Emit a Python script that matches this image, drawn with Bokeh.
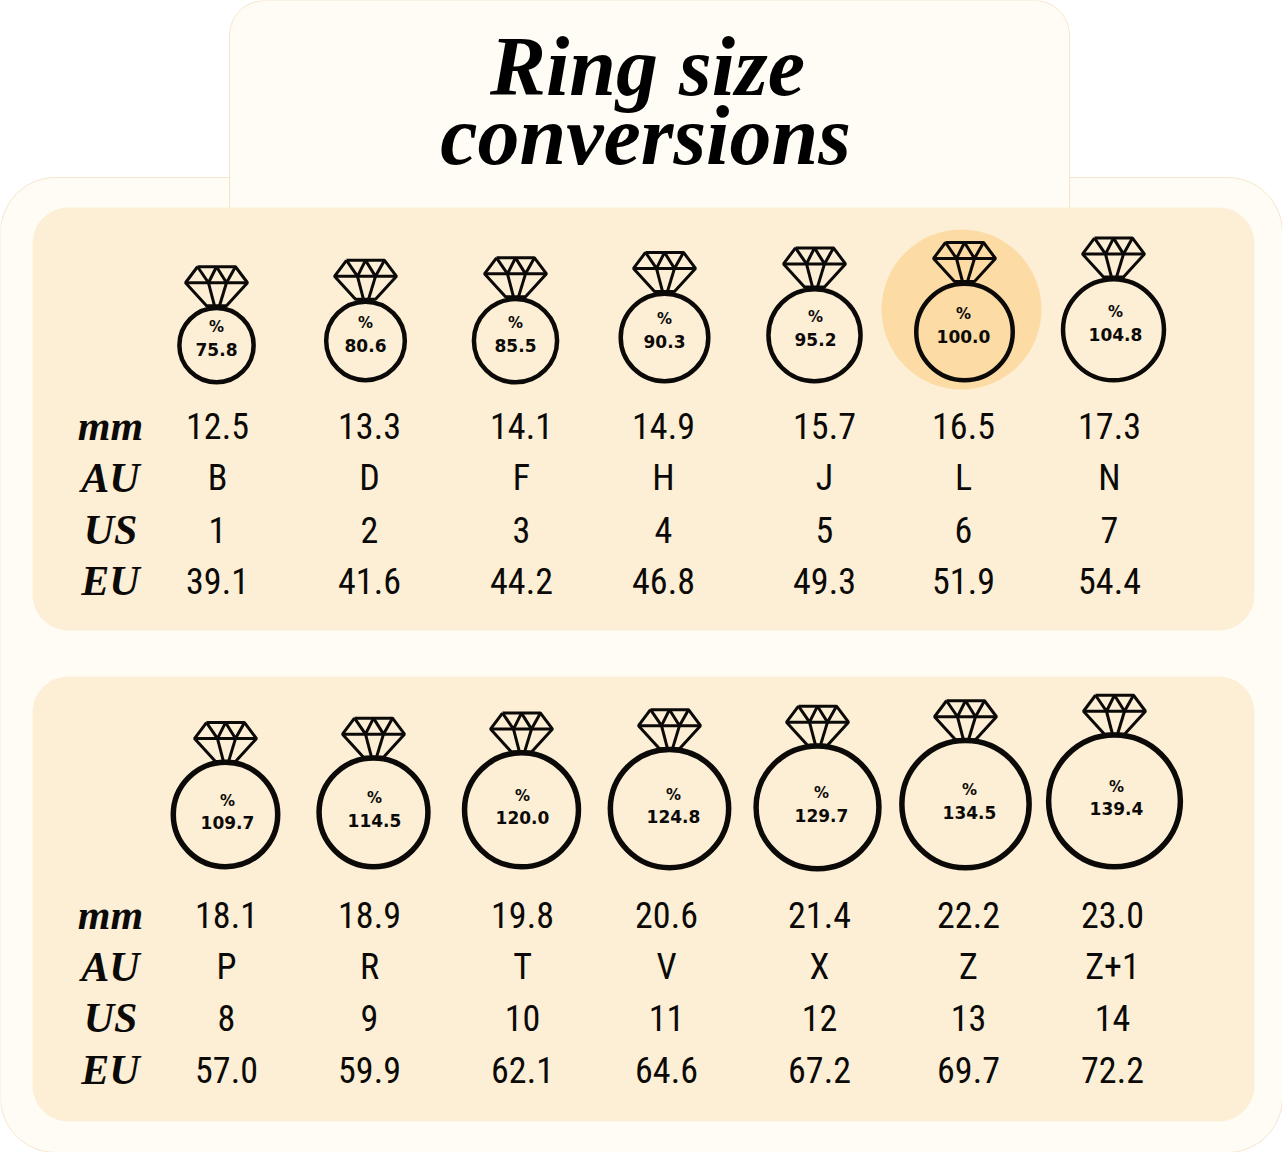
import math
from bokeh.plotting import figure
from bokeh.models import ColumnDataSource
from bokeh.core.properties import value
from bokeh.embed import file_html
from bokeh.resources import INLINE

# ---- data ----
title_lines = ["Ring size", "conversions"]
row_labels = ["mm", "AU", "US", "EU"]

pct_top = [75.8, 80.6, 85.5, 90.3, 95.2, 100.0, 104.8]
mm_top = ["12.5", "13.3", "14.1", "14.9", "15.7", "16.5", "17.3"]
au_top = ["B", "D", "F", "H", "J", "L", "N"]
us_top = ["1", "2", "3", "4", "5", "6", "7"]
eu_top = ["39.1", "41.6", "44.2", "46.8", "49.3", "51.9", "54.4"]

pct_bot = [109.7, 114.5, 120.0, 124.8, 129.7, 134.5, 139.4]
mm_bot = ["18.1", "18.9", "19.8", "20.6", "21.4", "22.2", "23.0"]
au_bot = ["P", "R", "T", "V", "X", "Z", "Z+1"]
us_bot = ["8", "9", "10", "11", "12", "13", "14"]
eu_bot = ["57.0", "59.9", "62.1", "64.6", "67.2", "69.7", "72.2"]

# ---- layout (page pixels of the reference) ----
ring_x_top = [216, 365, 515, 664, 814, 964, 1113]
ring_bottom_top = [384, 382, 384, 383, 383, 382, 382]
text_x_top = [216, 365, 515, 664, 815, 963, 1115]
col_x_top = [217, 369, 521, 663, 824, 963, 1109]
row_y_top = [425, 477, 529, 580]

ring_x_bot = [225, 373, 521, 669, 817, 965, 1114]
ring_bottom_bot = [869, 869, 869, 870, 871, 870, 869]
text_x_bot = [227, 374, 522, 673, 821, 969, 1116]
col_x_bot = [226, 369, 522, 666, 819, 968, 1112]
row_y_bot = [914, 966, 1017, 1069]

label_x = 110
TEXT_FONT = "Roboto Condensed"
SCRIPT_FONT = "Liberation Serif"
PCT_FONT = "DejaVu Sans"
INK = "#0b0a08"
CARD = "#fffcf6"

p = figure(width=1282, height=1152, x_range=(0, 1282), y_range=(1152, 0),
           output_backend="svg", toolbar_location=None, min_border=0)
p.axis.visible = False
p.grid.visible = False
p.outline_line_color = None
p.background_fill_color = "#ffffff"
p.border_fill_color = "#ffffff"


def rounded(x0, y0, x1, y1, r):
    xs, ys = [], []
    for cx, cy, a0 in [(x1 - r, y0 + r, -90), (x1 - r, y1 - r, 0),
                       (x0 + r, y1 - r, 90), (x0 + r, y0 + r, 180)]:
        for i in range(13):
            a = math.radians(a0 + i * 7.5)
            xs.append(cx + r * math.cos(a))
            ys.append(cy + r * math.sin(a))
    return xs, ys


def ring_radius(pct, lw):
    return 0.46 * pct + 4.5 - lw / 2


# backing card + tab
for box in [(0, 177, 1282, 1152, 55), (229, 0, 1069, 260, 35)]:
    xs, ys = rounded(*box)
    p.patch(xs, ys, fill_color=CARD, line_color="#f5e6cb", line_width=1)
p.patch(*rounded(230, 170, 1068, 260, 1), fill_color=CARD, line_color=None)

# inner panels
for box in [(32, 207, 1254, 630, 36), (32, 676, 1254, 1121, 36)]:
    xs, ys = rounded(*box)
    p.patch(xs, ys, fill_color="#fdefd5", line_color=None)

# highlight
p.circle(x=[961], y=[309], radius=80, fill_color="#fcdba4", line_color=None)

# title
p.text(x=[647, 645], y=[66, 135], text=title_lines,
       text_font=value(SCRIPT_FONT), text_font_style="bold italic",
       text_font_size="84px", text_color="#000000",
       text_align="center", text_baseline="middle")


def diamond(cx, top):
    segs = [
        [(-19, -40), (19, -40), (31, -24), (10, -1), (-10, -1), (-31, -24), (-19, -40)],
        [(-31, -24), (31, -24)],
        [(-19, -40), (-8, -24), (0, -40), (10, -24), (19, -40)],
        [(-8, -24), (-2, -1)],
        [(10, -24), (3, -1)],
    ]
    return [[cx + a for a, _ in s] for s in segs], [[top + b for _, b in s] for s in segs]


def draw_block(pcts, ring_x, ring_bottom, text_x, col_x, row_y, cols, lw, d_pct, d_val, d_dia):
    radii = [ring_radius(v, lw) for v in pcts]
    cy = [b - r - lw / 2 for b, r in zip(ring_bottom, radii)]
    for cx, c, r in zip(ring_x, cy, radii):
        xs, ys = diamond(cx, c - r - lw / 2 + d_dia)
        p.multi_line(xs, ys, line_color=INK, line_width=3)
    src = ColumnDataSource(dict(x=ring_x, y=cy, r=radii))
    p.circle(x="x", y="y", radius="r", source=src, fill_color=None,
             line_color=INK, line_width=lw)
    # percent labels
    p.text(x=text_x, y=[c + d_pct for c in cy], text=["%"] * len(pcts),
           text_font=value(PCT_FONT), text_font_style="bold", text_font_size="15px",
           text_color=INK, text_align="center", text_baseline="middle")
    p.text(x=text_x, y=[c + d_val for c in cy], text=[f"{v:.1f}" for v in pcts],
           text_font=value(PCT_FONT), text_font_style="bold", text_font_size="17px",
           text_color=INK, text_align="center", text_baseline="middle")
    # table
    for lab, y, col in zip(row_labels, row_y, cols):
        p.text(x=[label_x], y=[y], text=[lab], text_font=value(SCRIPT_FONT),
               text_font_style="bold italic", text_font_size="42px", text_color=INK,
               text_align="center", text_baseline="middle")
        p.text(x=col_x, y=[y] * len(col), text=col, text_font=value(TEXT_FONT),
               text_font_size="36px", text_color=INK,
               text_align="center", text_baseline="middle")


draw_block(pct_top, ring_x_top, ring_bottom_top, text_x_top, col_x_top, row_y_top,
           [mm_top, au_top, us_top, eu_top], 4.5, -18, 4.5, 1)
draw_block(pct_bot, ring_x_bot, ring_bottom_bot, text_x_bot, col_x_bot, row_y_bot,
           [mm_bot, au_bot, us_bot, eu_bot], 5.5, -14, 8, 3)

open("out.html", "w").write(file_html(p, INLINE))
